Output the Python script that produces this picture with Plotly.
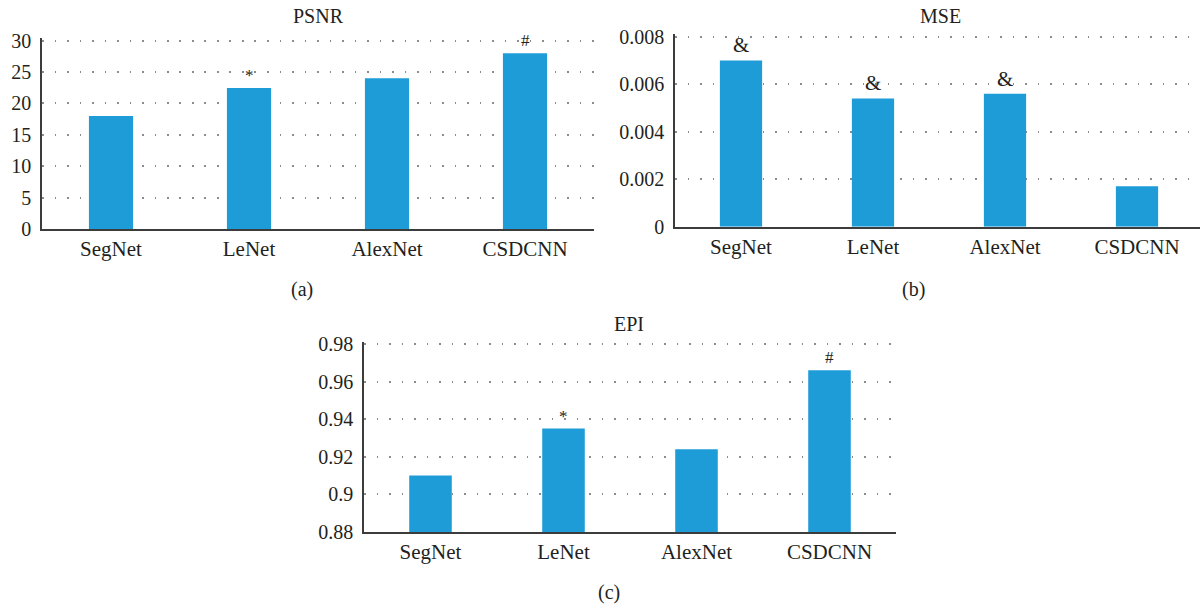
import plotly.graph_objects as go

categories = ["SegNet", "LeNet", "AlexNet", "CSDCNN"]
psnr = [18.0, 22.45, 24.0, 28.0]
mse = [0.0070, 0.0054, 0.0056, 0.0017]
epi = [0.910, 0.935, 0.924, 0.966]

psnr_marks = ["", "*", "", "#"]
mse_marks = ["&", "&", "&", ""]
epi_marks = ["", "*", "", "#"]

psnr_ticks = [0, 5, 10, 15, 20, 25, 30]
mse_ticks = [0, 0.002, 0.004, 0.006, 0.008]
mse_ticktext = ["0", "0.002", "0.004", "0.006", "0.008"]
epi_ticks = [0.88, 0.90, 0.92, 0.94, 0.96, 0.98]
epi_ticktext = ["0.88", "0.9", "0.92", "0.94", "0.96", "0.98"]

W, H = 1200, 605
FONT = "Liberation Serif, Times New Roman, serif"
TXT = "#231f20"
BAR = "#1e9cd8"
GRID = "#8c8c8c"
AXIS = "#3c3c3c"

def px(xp):
    return xp / W

def py(yp):
    return 1 - yp / H

fig = go.Figure()

# small headroom so the top dotted gridline is kept inside the plot area
EXT = 0.012

panels = [
    dict(vals=psnr, marks=psnr_marks, x="x", y="y", y0=229, y1=40.7,
         xd=[px(42), px(594)], rng=[0, 30], tv=psnr_ticks, tt=[str(v) for v in psnr_ticks],
         xr=[-0.5, 3.5], title="PSNR", tx=318, ty=16, lab="(a)", lx=302, ly=289),
    dict(vals=mse, marks=mse_marks, x="x2", y="y2", y0=226.7, y1=36.7,
         xd=[px(675), 1.0], rng=[0, 0.008], tv=mse_ticks, tt=mse_ticktext,
         xr=[-0.5, 3.5 - 3 / 132], title="MSE", tx=940, ty=16, lab="(b)", lx=913, ly=289),
    dict(vals=epi, marks=epi_marks, x="x3", y="y3", y0=532, y1=344,
         xd=[px(364), px(896)], rng=[0.88, 0.98], tv=epi_ticks, tt=epi_ticktext,
         xr=[-0.5, 3.5], title="EPI", tx=629, ty=324, lab="(c)", lx=609, ly=592),
]

annotations = []
layout = {}
for i, p in enumerate(panels):
    lo, hi = p["rng"]
    span = hi - lo
    hpx = p["y0"] - p["y1"]
    top_px = p["y1"] - hpx * EXT
    rng = [lo, hi + span * EXT]
    fig.add_trace(go.Bar(x=categories, y=p["vals"], xaxis=p["x"], yaxis=p["y"],
                         marker=dict(color=BAR, line=dict(width=0)), width=0.32,
                         showlegend=False, hoverinfo="skip"))
    xk = "xaxis" if i == 0 else f"xaxis{i+1}"
    yk = "yaxis" if i == 0 else f"yaxis{i+1}"
    layout[xk] = dict(domain=p["xd"], anchor=p["y"], range=p["xr"], type="category",
                      showline=True, linecolor=AXIS, linewidth=1.8, showgrid=False,
                      ticks="", ticklabelstandoff=0,
                      tickfont=dict(family=FONT, size=21, color=TXT), automargin=False,
                      fixedrange=True)
    layout[yk] = dict(domain=[py(p["y0"]), py(top_px)], anchor=p["x"], range=rng,
                      tickvals=p["tv"], ticktext=p["tt"], showline=True, linecolor=AXIS,
                      linewidth=1.5, showgrid=True, gridcolor=GRID, gridwidth=1.7,
                      griddash="1.7px,10.8px", zeroline=False, ticks="", ticklabelstandoff=5,
                      tickfont=dict(family=FONT, size=20, color=TXT), automargin=False,
                      fixedrange=True)
    for c, v, m in zip(categories, p["vals"], p["marks"]):
        if m:
            annotations.append(dict(x=c, y=v, xref=p["x"], yref=p["y"], text=m,
                                    showarrow=False, yanchor="bottom", yshift=1,
                                    font=dict(family=FONT, size=21 if m == "&" else 17, color=TXT)))
    annotations.append(dict(x=px(p["tx"]), y=py(p["ty"]), xref="paper", yref="paper",
                            text=p["title"], showarrow=False, xanchor="center", yanchor="middle",
                            font=dict(family=FONT, size=20, color=TXT)))
    annotations.append(dict(x=px(p["lx"]), y=py(p["ly"]), xref="paper", yref="paper",
                            text=p["lab"], showarrow=False, xanchor="center", yanchor="middle",
                            font=dict(family=FONT, size=20, color=TXT)))

fig.update_layout(width=W, height=H, margin=dict(l=0, r=0, t=0, b=0),
                  paper_bgcolor="white", plot_bgcolor="white",
                  annotations=annotations, bargap=0.68, **layout)

fig.write_html("out.html", config={"displayModeBar": False},
               post_script="document.body.style.margin='0px';document.body.style.overflow='hidden';")
